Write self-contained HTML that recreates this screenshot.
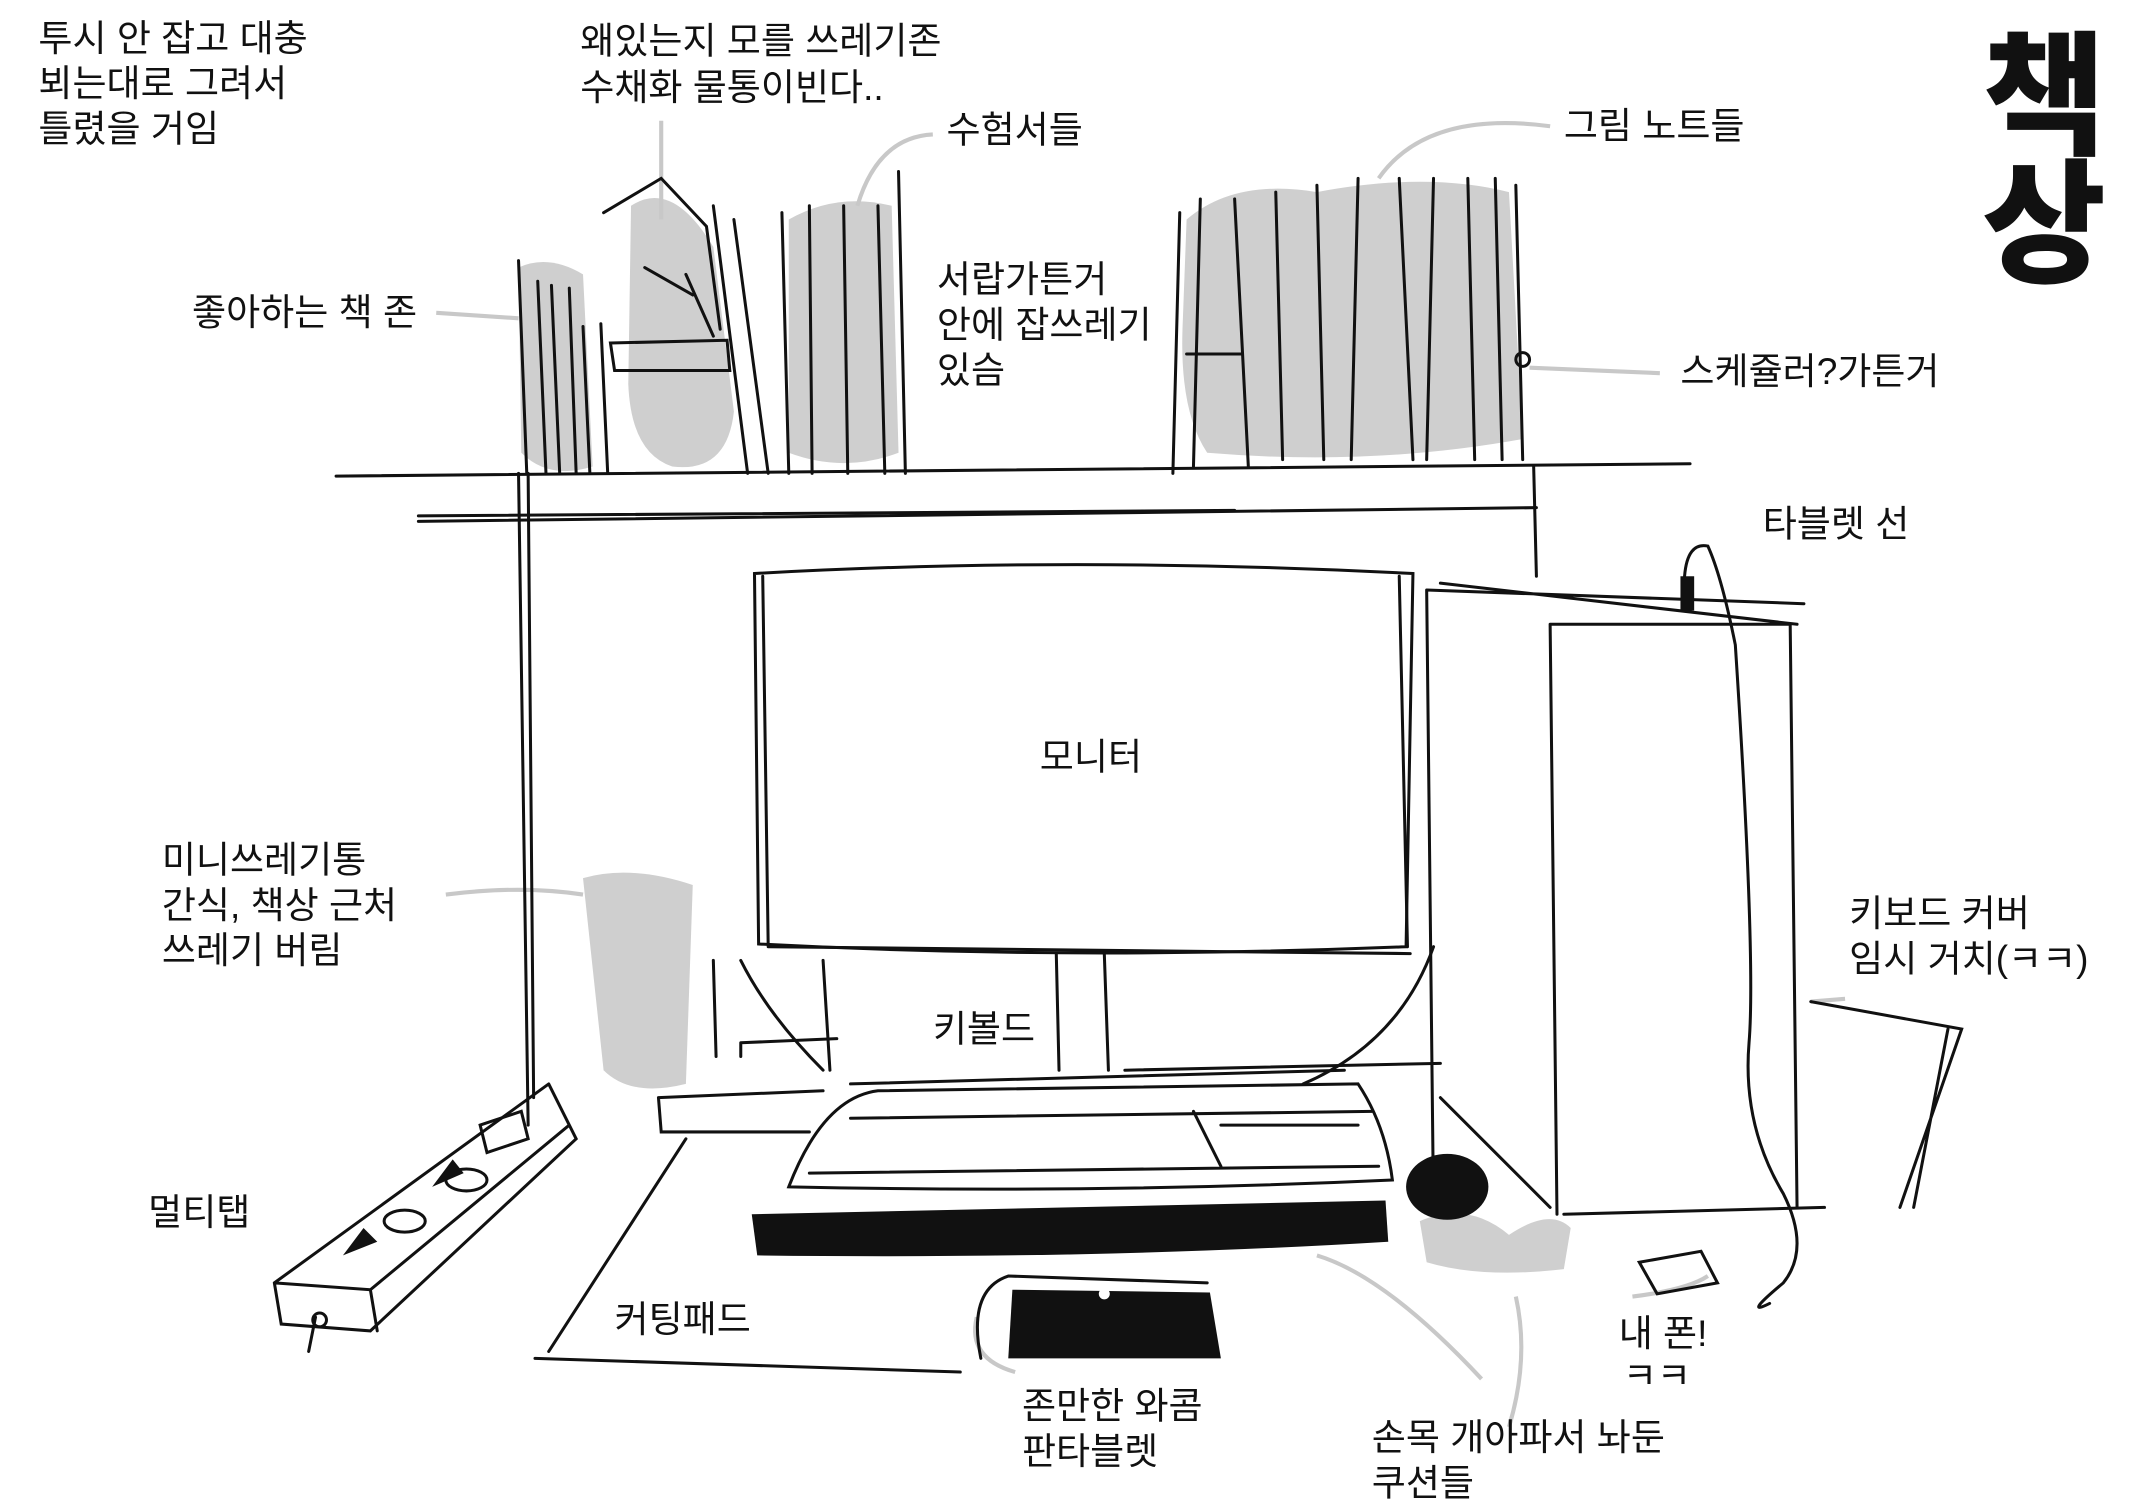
<!DOCTYPE html>
<html><head><meta charset="utf-8"><style>
html,body{margin:0;padding:0;background:#fff;}
svg{display:block;}
text{font-family:"Liberation Sans","Noto Sans CJK KR","NanumGothic",sans-serif;font-size:27px;fill:#111;}
</style></head><body>
<svg width="2140" height="1512" viewBox="0 0 1560 1102" preserveAspectRatio="none" xmlns="http://www.w3.org/2000/svg">
<rect width="1560" height="1102" fill="#fff"/>
<g fill="#cfcfcf">
<path d="M378 195 Q400 185 425 200 L432 340 Q400 350 380 330 Z"/>
<path d="M460 150 Q490 130 520 180 L535 300 Q530 345 490 340 Q460 330 458 280 Z"/>
<path d="M575 160 Q610 140 650 150 L655 330 Q615 345 575 330 Z"/>
<path d="M865 160 Q900 130 960 140 Q1040 125 1100 140 L1110 320 Q1000 340 880 330 Q860 300 862 240 Z"/>
<path d="M425 640 Q460 630 505 645 L500 790 Q460 800 440 780 Z"/>
<path d="M1035 890 Q1070 875 1100 900 Q1130 880 1145 895 L1140 925 Q1080 932 1040 920 Z"/>
</g>
<g stroke="#c8c8c8" stroke-width="3" fill="none">
<path d="M482 88 L482 160"/>
<path d="M680 98 Q640 100 625 150"/>
<path d="M1130 92 Q1040 80 1005 130"/>
<path d="M318 228 L378 232"/>
<path d="M1210 272 L1115 268"/>
<path d="M325 652 Q380 645 425 652"/>
<path d="M1345 728 L1320 730"/>
<path d="M740 1000 Q705 990 712 960"/>
<path d="M1100 1040 Q1115 990 1105 945"/>
<path d="M1080 1005 Q1010 930 960 915"/>
<path d="M1190 945 Q1230 940 1245 930"/>
</g>
<g stroke="#111" stroke-width="2.2" fill="none" stroke-linecap="round">
<path d="M245 347 L1232 338"/><path d="M305 380 L1120 370"/><path d="M305 376 L900 372"/>
<path d="M378 345 L385 820"/><path d="M385 345 L389 800"/><path d="M1118 340 L1120 420"/>
<path d="M378 190 L384 345 M392 205 L398 345 M402 208 L408 345 M415 210 L420 345 M425 238 L430 345 M438 236 L443 345"/>
<path d="M445 250 L530 248 L532 270 L448 270 Z"/>
<path d="M440 155 L482 130 L515 165 L525 240 M470 195 L505 215 M500 200 L520 245"/>
<path d="M520 150 L545 345 M535 160 L560 345 M570 155 L575 345 M590 150 L592 345 M615 150 L618 345 M640 150 L645 345 M655 125 L660 345"/>
<path d="M860 155 L855 345 M875 145 L870 340 M900 145 L910 340 M930 140 L935 335 M960 135 L965 335 M990 130 L985 335 M1020 130 L1030 335 M1045 130 L1040 335 M1070 130 L1075 335 M1090 130 L1095 335 M1105 135 L1110 335 M865 258 L905 258"/>
<circle cx="1110" cy="262" r="5"/>
<path d="M550 418 Q780 405 1030 418 L1025 690 Q780 700 553 688 Z"/>
<path d="M556 420 L560 690 M1020 420 L1026 690 M560 690 L1028 695"/>
<path d="M770 695 L772 780 M805 695 L808 780 M600 700 L605 780 M520 700 L522 770"/>
<path d="M1040 430 L1045 880 M1130 455 L1135 885 M1305 455 L1310 880 M1130 455 L1305 455 M1040 430 L1315 440 M1050 425 L1310 455"/>
<path d="M1320 730 L1430 750 L1385 880 M1420 750 L1395 880"/>
<path d="M480 800 L600 795 M480 800 L482 825 L590 825 M540 760 L610 757 M540 760 L540 770"/>
<path d="M400 985 L500 830 M390 990 L700 1000 M1050 800 L1130 880"/>
<path d="M575 865 Q600 800 640 795 L990 790 Q1010 820 1015 860 Q800 870 575 865 Z"/>
<path d="M590 855 L1005 850 M620 815 L1000 810 M870 810 L890 850 M890 820 L990 820"/>
<path d="M820 780 L1050 775 M620 790 L980 780"/>
<path d="M1045 690 Q1020 760 950 790"/>
<path d="M540 700 Q560 740 600 780"/>
<path d="M200 935 L400 790 M200 935 L205 965 L270 970 L420 830 L400 790 M270 940 L275 970 M200 935 L270 940 L415 820"/>
<path d="M350 820 L380 810 L385 830 L355 840 Z"/>
<ellipse cx="295" cy="890" rx="15" ry="8"/><ellipse cx="340" cy="860" rx="15" ry="8"/>
<path d="M230 960 L225 985"/><circle cx="233" cy="962" r="5"/>
<path d="M1228 420 Q1230 395 1245 398 Q1255 420 1265 470 Q1280 700 1275 760 Q1270 820 1300 870 Q1320 910 1300 935 Q1270 960 1290 950"/>
<path d="M1140 885 L1330 880"/>
<path d="M1195 920 L1240 912 L1252 935 L1208 943 Z"/>
<path d="M715 990 Q705 940 735 930 L880 935"/>
</g>
<g fill="#111">
<path d="M548 885 L1010 875 L1012 905 Q800 918 552 915 Z"/>
<path d="M738 940 L882 942 L890 990 L735 990 Z"/>
<ellipse cx="1055" cy="865" rx="30" ry="24"/>
<rect x="1225" y="420" width="10" height="25"/>
<path d="M250 915 L265 895 L275 905 Z"/><path d="M315 865 L330 845 L338 855 Z"/>
</g>
<circle cx="805" cy="943" r="4" fill="#fff"/>
<text x="28" y="37">투시 안 잡고 대충</text>
<text x="28" y="70">뵈는대로 그려서</text>
<text x="28" y="103">틀렸을 거임</text>
<text x="423" y="39">왜있는지 모를 쓰레기존</text>
<text x="423" y="73">수채화 물통이빈다..</text>
<text x="690" y="104">수험서들</text>
<text x="1140" y="101">그림 노트들</text>
<text x="140" y="237">좋아하는 책 존</text>
<text x="683" y="213">서랍가튼거</text>
<text x="683" y="246">안에 잡쓰레기</text>
<text x="683" y="279">있슴</text>
<text x="1225" y="280">스케쥴러?가튼거</text>
<text x="1285" y="391">타블렛 선</text>
<text x="758" y="561">모니터</text>
<text x="118" y="636">미니쓰레기통</text>
<text x="118" y="669">간식, 책상 근처</text>
<text x="118" y="702">쓰레기 버림</text>
<text x="1348" y="675">키보드 커버</text>
<text x="1348" y="708">임시 거치(ㅋㅋ)</text>
<text x="680" y="759">키볼드</text>
<text x="108" y="893">멀티탭</text>
<text x="448" y="971">커팅패드</text>
<text x="1180" y="981">내 폰!</text>
<text x="1183" y="1012">ㅋㅋ</text>
<text x="745" y="1034">존만한 와콤</text>
<text x="745" y="1067">판타블렛</text>
<text x="1000" y="1057">손목 개아파서 놔둔</text>
<text x="1000" y="1090">쿠션들</text>
<text x="1445" y="105" style="font-size:98px;font-weight:900">책</text>
<text x="1445" y="198" style="font-size:98px;font-weight:900">상</text>
</svg>
</body></html>
